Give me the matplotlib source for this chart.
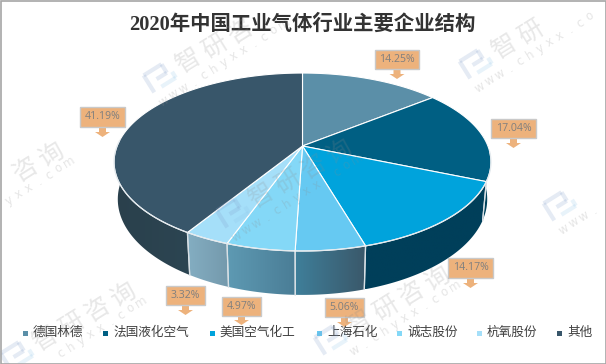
import numpy as np
import matplotlib
matplotlib.use("Agg")
import matplotlib.pyplot as plt
from matplotlib.patches import Polygon, Rectangle
from matplotlib.colors import LinearSegmentedColormap

TITLE = "2020年中国工业气体行业主要企业结构"
companies = ["德国林德", "法国液化空气", "美国空气化工", "上海石化", "诚志股份", "杭氧股份", "其他"]
shares = [14.25, 17.04, 14.17, 5.06, 4.97, 3.32, 41.19]
top_colors = ["#5b8fa8", "#005f83", "#00a3dc", "#66c9f2", "#84d8f7", "#a5dff9", "#38566a"]
side_left = ["#5b8fa8", "#00425c", "#003f5a", "#3f7f9a", "#5e9ab3", "#84aec2", "#2a404c"]
side_right = ["#5b8fa8", "#00425c", "#003f5a", "#3a586a", "#4a7d96", "#7499ac", "#2c4552"]

plt.rcParams["font.family"] = ["Noto Sans CJK SC", "DejaVu Sans"]
W, H = 606, 364
fig = plt.figure(figsize=(W / 100, H / 100), dpi=100, facecolor="white")
ax = fig.add_axes([0, 0, 1, 1])
ax.set_xlim(0, W)
ax.set_ylim(H, 0)
ax.axis("off")

# perspective projection of the pie disc
CX, CY, A, B, P, DEPTH, SHRINK = 302.5, 146.0, 185.4, 86.1, 0.18, 36.0, 0.98


def rim(theta):
    u, v = np.sin(theta), np.cos(theta)
    w = 1 + P * v
    return CX + A * u / w, CY - B * v / w


def floor(theta):
    x, y = rim(theta)
    w = 1 + P * np.cos(theta)
    return CX + (x - CX) * SHRINK, y + DEPTH / w


edges = np.cumsum([0] + shares) / sum(shares) * 2 * np.pi

# side walls, back to front
order = [0, 1, 6, 2, 5, 3, 4]
for i in order:
    t = np.linspace(edges[i], edges[i + 1], 160)
    # keep the front half of the wall only
    t = t[np.cos(t) < 0.12] if i in (1, 6) else t
    if i == 0 or len(t) < 2:
        continue
    rx, ry = rim(t)
    fx, fy = floor(t)
    pts = np.column_stack([np.r_[rx, fx[::-1]], np.r_[ry, fy[::-1]]])
    poly = Polygon(pts, closed=True, fc="none", ec="none")
    ax.add_patch(poly)
    cm = LinearSegmentedColormap.from_list("w", [side_left[i], side_right[i]])
    im = ax.imshow(np.linspace(0, 1, 128)[None, :], cmap=cm, aspect="auto",
                   extent=(pts[:, 0].min(), pts[:, 0].max(), pts[:, 1].max(), pts[:, 1].min()),
                   zorder=2, interpolation="bilinear")
    im.set_clip_path(poly)
    # light seam between walls
    for e in (edges[i], edges[i + 1]):
        if np.cos(e) < 0:
            x0, y0 = rim(e)
            x1, y1 = floor(e)
            ax.plot([x0, x1], [y0, y1], color="#d8e0e5", lw=0.9, zorder=3)
ax.set_xlim(0, W)
ax.set_ylim(H, 0)

# top of the pie
for i, c in enumerate(top_colors):
    t = np.linspace(edges[i], edges[i + 1], 160)
    x, y = rim(t)
    ax.add_patch(Polygon(np.column_stack([np.r_[CX, x], np.r_[CY, y]]), closed=True,
                         fc=c, ec="white", lw=0.8, zorder=4, joinstyle="round"))
t = np.linspace(np.pi * 0.52, np.pi * 1.52, 300)
ax.plot(*rim(t), color="#e4eaee", lw=0.9, zorder=4)

# callout labels
boxes = [(375, 50, 44, 19, 79), (491, 119, 45, 19, 148), (448, 258, 45, 20, 288),
         (325, 298, 39, 19, 327), (222, 297, 39, 19, 325), (166, 286, 39, 19, 315),
         (80, 107, 45, 20, 137)]
for v, (bx, by, bw, bh, tip) in zip(shares, boxes):
    mid = bx + bw / 2
    ax.add_patch(Polygon([(mid - 3.5, by + bh), (mid - 3.5, tip - 5), (mid - 7.5, tip - 5), (mid, tip),
                          (mid + 7.5, tip - 5), (mid + 3.5, tip - 5), (mid + 3.5, by + bh)],
                         fc="#edb27c", ec="none", zorder=6))
    ax.add_patch(Rectangle((bx, by), bw, bh, fc="#edb27c", ec="#c9c9c9", lw=1.0, zorder=6))
    ax.text(mid, by + bh / 2 - 0.3, f"{v:.2f}%", ha="center", va="center", fontsize=7.6,
            color="#7f7f7f", zorder=7, family=["Open Sans", "DejaVu Sans"])

# title
ax.text(302.5, 25, TITLE, ha="center", va="center", fontsize=14.7, fontweight="bold", color="#333333",
        family=["Liberation Serif", "Noto Sans CJK SC"], zorder=7)

# legend
legend_swatch_x = [25, 105, 212, 319, 399, 479, 559]
legend_text_x = [33, 113, 219, 327, 407, 487, 567]
legend_colors = ["#5b8fa8", "#005f83", "#00a3dc", "#66c9f2", "#84d8f7", "#a5dff9", "#38566a"]
for name, sx, tx, c in zip(companies, legend_swatch_x, legend_text_x, legend_colors):
    ax.add_patch(Rectangle((sx - 2, 331), 4.5, 4.5, fc=c, ec="none", zorder=7))
    ax.text(tx, 332.5, name, ha="left", va="center", fontsize=9.1, color="#404040", zorder=7)

# watermark: only glyphs that sit fully inside the picture
ANG = 32
ca, sa = np.cos(np.radians(ANG)), np.sin(np.radians(ANG))
logos = [(160, 77), (476, 63), (17, 355), (331, 339), (560, 205), (233, 212), (-55, 215)]


def inside(x, y, m):
    return m < x < W - m and m < y < H - m


for lx, ly in logos:
    for k, ch in enumerate("智研咨询"):
        x, y = lx + 29 + 26 * k, ly - 16 - 14.7 * k
        if inside(x, y, 18):
            ax.text(x, y, ch, rotation=ANG, ha="center", va="center",
                    fontsize=18, color="#8c8c8c", alpha=0.2, zorder=8)
    for k, ch in enumerate("www.chyxx.com"):
        x, y = lx + 4 + 10 * k, ly + 24 - 6.4 * k
        if inside(x, y, 8):
            ax.text(x, y, ch, rotation=ANG, ha="center", va="center",
                    fontsize=8.5, color="#8c8c8c", alpha=0.22, zorder=8,
                    family=["DejaVu Sans"])
    # logo mark
    for (a0, b0, a1, b1, col) in [(-13, -10, 8, -10, "#7f9cc8"), (8, -10, 8, 0, "#7f9cc8"), (8, 0, -4, 0, "#7f9cc8"),
                                  (-13, -10, -13, 10, "#7f9cc8"), (-4, 9, 13, 9, "#8fc4e8"), (13, 9, 13, 2, "#8fc4e8")]:
        ax.plot([lx + a0 * ca + b0 * sa, lx + a1 * ca + b1 * sa],
                [ly - a0 * sa + b0 * ca, ly - a1 * sa + b1 * ca],
                color=col, alpha=0.2, lw=3, solid_capstyle="butt", zorder=8)

# frame
ax.add_patch(Rectangle((0.5, 0.5), W - 1, H - 1, fc="none", ec="#a6a6a6", lw=1.2, zorder=9))
fig.savefig("out.png", dpi=100)
